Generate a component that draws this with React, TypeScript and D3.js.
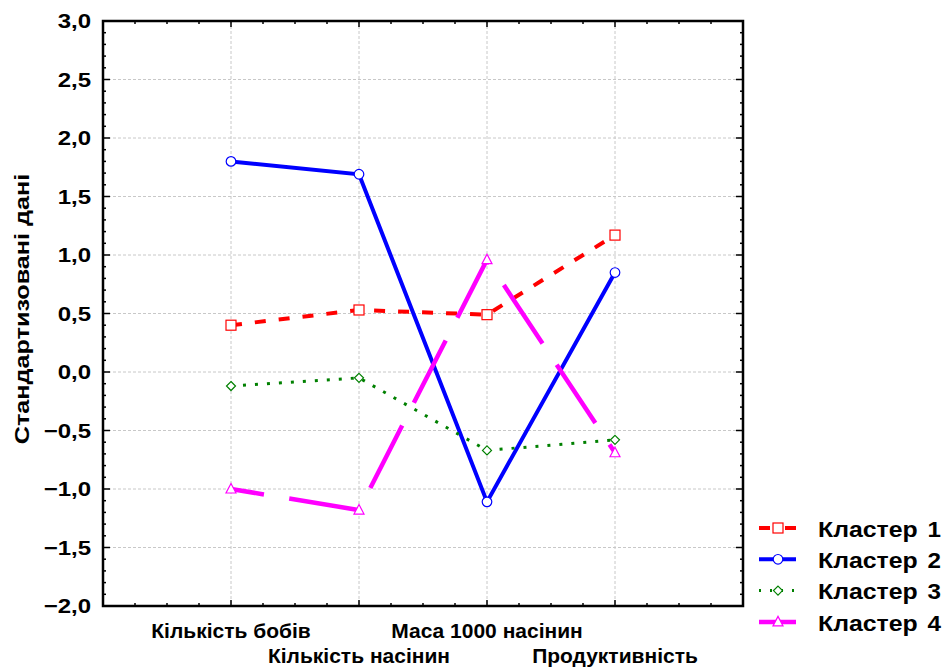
import * as d3 from 'd3';

const categories = ['Кількість бобів', 'Кількість насінин', 'Маса 1000 насінин', 'Продуктивність'];
const cluster1 = [0.4, 0.53, 0.49, 1.17];
const cluster2 = [1.8, 1.69, -1.11, 0.85];
const cluster3 = [-0.12, -0.05, -0.67, -0.58];
const cluster4 = [-1.0, -1.18, 0.96, -0.69];
const seriesNames = ['Кластер', 'Кластер', 'Кластер', 'Кластер'];
const seriesNumbers = ['1', '2', '3', '4'];
const yTickValues = [-2, -1.5, -1, -0.5, 0, 0.5, 1, 1.5, 2, 2.5, 3];

const W = 944;
const H = 668;
const left = 103;
const right = 743;
const top = 21;
const bottom = 606;
const font = '"Liberation Sans", Arial, sans-serif';

const styles = [
  { color: '#ff0000', dash: '11,13', offset: 0, width: 4, marker: 'square', legendDash: '11,15' },
  { color: '#0000ff', dash: null, offset: 0, width: 4, marker: 'circle', legendDash: null },
  { color: '#008000', dash: '3,9', offset: 0, width: 3, marker: 'diamond', legendDash: '2,9' },
  { color: '#ff00ff', dash: '70,25.6', offset: 36.6, width: 4.5, marker: 'triangle', legendDash: null },
];

function Marker({ type, x, y, color }: { type: string; x: number; y: number; color: string }) {
  const common = { fill: 'white', stroke: color, strokeWidth: 1.2 };
  if (type === 'square') return <rect x={x - 5} y={y - 5} width={10} height={10} {...common} />;
  if (type === 'circle') return <circle cx={x} cy={y} r={4.8} {...common} />;
  if (type === 'diamond')
    return <path d={`M${x},${y - 4.5}L${x + 4.5},${y}L${x},${y + 4.5}L${x - 4.5},${y}Z`} {...common} />;
  return <path d={`M${x},${y - 5.5}L${x + 5},${y + 4}L${x - 5},${y + 4}Z`} {...common} />;
}

export default function App() {
  const x = d3.scaleLinear().domain([0, 5]).range([left, right]);
  const y = d3.scaleLinear().domain([-2, 3]).range([bottom, top]);
  const data = [cluster1, cluster2, cluster3, cluster4];
  const line = d3
    .line<number>()
    .x((_, i) => x(i + 1))
    .y((d) => y(d));

  const xMinor = d3.range(0, 5.001, 0.25);
  const yMinor = d3.range(-2, 3.001, 0.1);
  const isMajorX = (v: number) => Math.abs(v - Math.round(v)) < 1e-6;
  const isMajorY = (v: number) => Math.abs(v * 2 - Math.round(v * 2)) < 1e-6;

  return (
    <svg width={W} height={H} style={{ position: 'absolute', left: 0, top: 0, background: 'white' }}>
      {/* grid */}
      {yTickValues.slice(1, -1).map((v) => (
        <line key={'gy' + v} x1={left} x2={right} y1={y(v)} y2={y(v)} stroke="#c8c8c8" strokeDasharray="3,2" />
      ))}
      {categories.map((_, i) => (
        <line key={'gx' + i} x1={x(i + 1)} x2={x(i + 1)} y1={top} y2={bottom} stroke="#c8c8c8" strokeDasharray="3,2" />
      ))}
      {/* ticks */}
      {xMinor.map((v) => {
        const len = isMajorX(v) ? 6 : 3;
        return (
          <g key={'tx' + v}>
            <line x1={x(v)} x2={x(v)} y1={bottom} y2={bottom - len} stroke="black" strokeWidth={1.5} />
            <line x1={x(v)} x2={x(v)} y1={top} y2={top + len} stroke="black" strokeWidth={1.5} />
          </g>
        );
      })}
      {yMinor.map((v) => {
        const len = isMajorY(v) ? 7 : 3;
        return (
          <g key={'ty' + v.toFixed(2)}>
            <line x1={left} x2={left + len} y1={y(v)} y2={y(v)} stroke="black" strokeWidth={1.5} />
            <line x1={right} x2={right - len} y1={y(v)} y2={y(v)} stroke="black" strokeWidth={1.5} />
          </g>
        );
      })}
      {/* frame */}
      <rect x={left} y={top} width={right - left} height={bottom - top} fill="none" stroke="black" strokeWidth={2.5} />
      {/* y tick labels */}
      {yTickValues.map((v) => (
        <text
          key={'yl' + v}
          transform={`translate(91,${y(v)}) scale(1.2,1)`}
          dy="0.36em"
          textAnchor="end"
          fontFamily={font}
          fontWeight="bold"
          fontSize={20}
        >
          {d3.format('.1f')(v).replace('.', ',')}
        </text>
      ))}
      {/* x labels */}
      {categories.map((c, i) => (
        <text
          key={'xl' + i}
          transform={`translate(${x(i + 1)},${i % 2 === 0 ? 638 : 663}) scale(1.05,1)`}
          textAnchor="middle"
          fontFamily={font}
          fontWeight="bold"
          fontSize={20}
        >
          {c}
        </text>
      ))}
      {/* y title */}
      <text
        transform={`translate(29,309) rotate(-90) scale(1.2,1)`}
        textAnchor="middle"
        fontFamily={font}
        fontWeight="bold"
        fontSize={21}
      >
        Стандартизовані дані
      </text>
      {/* series */}
      {data.map((s, k) => (
        <g key={'s' + k}>
          <path
            d={line(s) || ''}
            fill="none"
            stroke={styles[k].color}
            strokeWidth={styles[k].width}
            strokeDasharray={styles[k].dash || undefined}
            strokeDashoffset={styles[k].offset}
          />
          {s.map((v, i) => (
            <Marker key={i} type={styles[k].marker} x={x(i + 1)} y={y(v)} color={styles[k].color} />
          ))}
        </g>
      ))}
      {/* legend */}
      {seriesNames.map((n, k) => {
        const ly = 528 + k * 31.3;
        return (
          <g key={'lg' + k}>
            <line
              x1={759}
              x2={796}
              y1={ly}
              y2={ly}
              stroke={styles[k].color}
              strokeWidth={styles[k].width}
              strokeDasharray={styles[k].legendDash || undefined}
            />
            <Marker type={styles[k].marker} x={778} y={ly} color={styles[k].color} />
            <text
              transform={`translate(818,${ly}) scale(1.13,1)`}
              dy="0.4em"
              fontFamily={font}
              fontWeight="bold"
              fontSize={22}
            >
              {n}
            </text>
            <text
              transform={`translate(941,${ly}) scale(1.1,1)`}
              dy="0.4em"
              textAnchor="end"
              fontFamily={font}
              fontWeight="bold"
              fontSize={22}
            >
              {seriesNumbers[k]}
            </text>
          </g>
        );
      })}
    </svg>
  );
}
